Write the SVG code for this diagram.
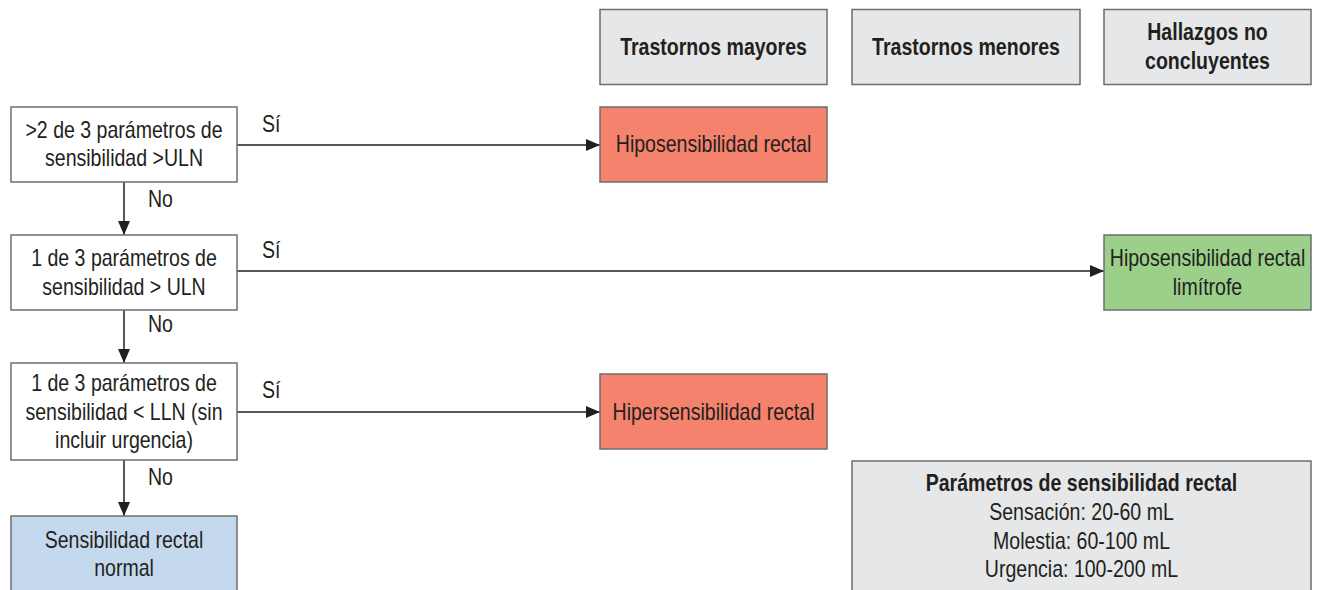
<svg xmlns="http://www.w3.org/2000/svg" width="1331" height="590" viewBox="0 0 1331 590">
<style>
.box{stroke:#6d6e71;stroke-width:1.5}
.w{fill:#ffffff}
.g{fill:#e6e7e8}
.r{fill:#f4826c}
.gr{fill:#9ccf8a}
.b{fill:#c5d9ee}
.t{font-family:"Liberation Sans",Arial,sans-serif;font-size:23px;fill:#231f20;text-anchor:middle}
.bold{font-weight:bold}
.lbl{font-family:"Liberation Sans",Arial,sans-serif;font-size:23px;fill:#231f20}
.c{stroke:#231f20;stroke-width:1.5;fill:none}
</style>
<defs>
<marker id="ah" markerUnits="userSpaceOnUse" markerWidth="14" markerHeight="12" refX="14" refY="6" orient="auto">
<path d="M0,0 L14,6 L0,12 Z" fill="#231f20"/>
</marker>
</defs>
<rect width="1331" height="590" fill="#ffffff"/>

<g id="connectors">
<line class="c" x1="237" y1="145" x2="600" y2="145" marker-end="url(#ah)"/>
<line class="c" x1="124" y1="182" x2="124" y2="235" marker-end="url(#ah)"/>
<line class="c" x1="237" y1="271" x2="1104" y2="271" marker-end="url(#ah)"/>
<line class="c" x1="124" y1="310" x2="124" y2="363" marker-end="url(#ah)"/>
<line class="c" x1="237" y1="412" x2="600" y2="412" marker-end="url(#ah)"/>
<line class="c" x1="124" y1="460" x2="124" y2="516" marker-end="url(#ah)"/>
<text class="lbl" transform="translate(262 0) scale(0.85 1)" x="0" y="132">Sí</text>
<text class="lbl" transform="translate(148 0) scale(0.85 1)" x="0" y="207">No</text>
<text class="lbl" transform="translate(262 0) scale(0.85 1)" x="0" y="258">Sí</text>
<text class="lbl" transform="translate(148 0) scale(0.85 1)" x="0" y="332">No</text>
<text class="lbl" transform="translate(262 0) scale(0.85 1)" x="0" y="398">Sí</text>
<text class="lbl" transform="translate(148 0) scale(0.85 1)" x="0" y="485">No</text>
</g>

<g id="hdr-mayores">
<rect class="box g" x="600" y="9.5" width="227" height="75"/>
<text class="t bold" transform="translate(713.5 0) scale(0.85 1)"><tspan x="0" y="55">Trastornos mayores</tspan></text>
</g>
<g id="hdr-menores">
<rect class="box g" x="852" y="9.5" width="228" height="75"/>
<text class="t bold" transform="translate(966 0) scale(0.85 1)"><tspan x="0" y="55">Trastornos menores</tspan></text>
</g>
<g id="hdr-hallazgos">
<rect class="box g" x="1104" y="9.5" width="207" height="75"/>
<text class="t bold" transform="translate(1207.5 0) scale(0.85 1)"><tspan x="0" y="40.5">Hallazgos no</tspan><tspan x="0" y="69">concluyentes</tspan></text>
</g>

<g id="q1">
<rect class="box w" x="11" y="107" width="226" height="75"/>
<text class="t" transform="translate(124 0) scale(0.85 1)"><tspan x="0" y="138">&gt;2 de 3 parámetros de</tspan><tspan x="0" y="166.5">sensibilidad &gt;ULN</tspan></text>
</g>
<g id="hipo">
<rect class="box r" x="600" y="107" width="227" height="75"/>
<text class="t" transform="translate(713.5 0) scale(0.85 1)"><tspan x="0" y="152">Hiposensibilidad rectal</tspan></text>
</g>

<g id="q2">
<rect class="box w" x="11" y="235" width="226" height="75"/>
<text class="t" transform="translate(124 0) scale(0.85 1)"><tspan x="0" y="266.5">1 de 3 parámetros de</tspan><tspan x="0" y="295">sensibilidad &gt; ULN</tspan></text>
</g>
<g id="limitrofe">
<rect class="box gr" x="1104" y="235" width="207" height="75"/>
<text class="t" transform="translate(1207.5 0) scale(0.85 1)"><tspan x="0" y="266.5">Hiposensibilidad rectal</tspan><tspan x="0" y="295">limítrofe</tspan></text>
</g>

<g id="q3">
<rect class="box w" x="11" y="363" width="226" height="97"/>
<text class="t" transform="translate(124 0) scale(0.85 1)"><tspan x="0" y="391.5">1 de 3 parámetros de</tspan><tspan x="0" y="420">sensibilidad &lt; LLN (sin</tspan><tspan x="0" y="448.5">incluir urgencia)</tspan></text>
</g>
<g id="hiper">
<rect class="box r" x="600" y="374" width="227" height="75"/>
<text class="t" transform="translate(713.5 0) scale(0.85 1)"><tspan x="0" y="420">Hipersensibilidad rectal</tspan></text>
</g>

<g id="normal">
<rect class="box b" x="11" y="516" width="226" height="90"/>
<text class="t" transform="translate(124 0) scale(0.85 1)"><tspan x="0" y="548">Sensibilidad rectal</tspan><tspan x="0" y="576">normal</tspan></text>
</g>

<g id="parametros">
<rect class="box g" x="852" y="461" width="459" height="145"/>
<text class="t" transform="translate(1081.5 0) scale(0.85 1)"><tspan class="bold" x="0" y="491.5">Parámetros de sensibilidad rectal</tspan><tspan x="0" y="520">Sensación: 20-60 mL</tspan><tspan x="0" y="549">Molestia: 60-100 mL</tspan><tspan x="0" y="577.5">Urgencia: 100-200 mL</tspan></text>
</g>
</svg>
